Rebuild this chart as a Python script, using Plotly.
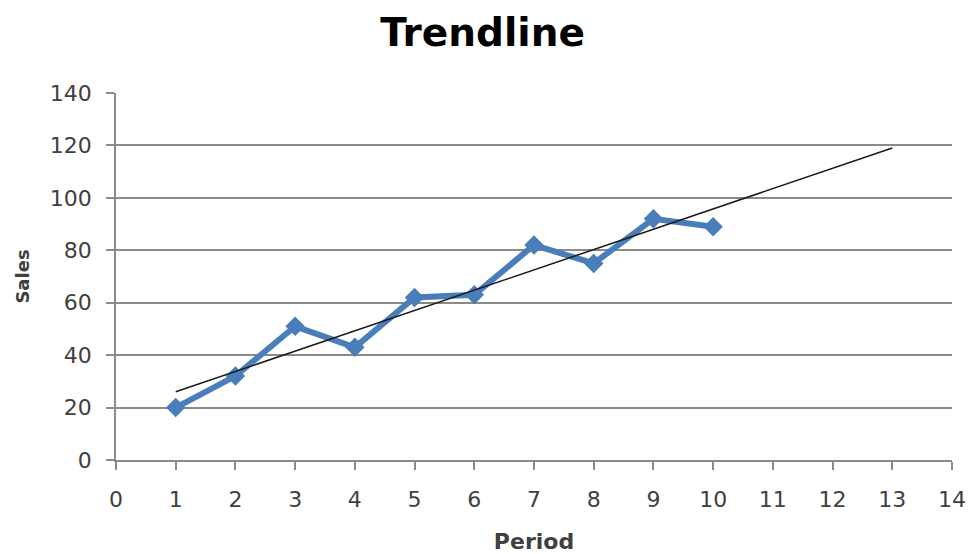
import numpy as np
import plotly.graph_objects as go

# Sales by period
period = [1, 2, 3, 4, 5, 6, 7, 8, 9, 10]
sales = [20, 32, 51, 43, 62, 63, 82, 75, 92, 89]

# Linear trendline, forecast forward 3 periods
forecast_periods = 3
slope, intercept = np.polyfit(period, sales, 1)
trend_x = [period[0], period[-1] + forecast_periods]
trend_y = [slope * x + intercept for x in trend_x]

x_ticks = list(range(0, 15))
y_ticks = list(range(0, 141, 20))

FONT = "DejaVu Sans"
AXIS_GRAY = "#8a8a8a"
TEXT_GRAY = "#404040"

fig = go.Figure()
fig.add_trace(go.Scatter(
    x=period, y=sales, mode="lines+markers",
    line=dict(color="#4a7ebb", width=6),
    marker=dict(symbol="diamond", size=15, color="#4a7ebb"),
    showlegend=False,
))
fig.add_trace(go.Scatter(
    x=trend_x, y=trend_y, mode="lines",
    line=dict(color="#1a1a1a", width=1.5),
    showlegend=False,
))

fig.update_layout(
    width=971, height=554,
    margin=dict(l=116, r=19, t=93, b=94),
    paper_bgcolor="white", plot_bgcolor="white",
    title=dict(text="<b>Trendline</b>", x=0.497, xanchor="center",
               y=0.942, yanchor="middle",
               font=dict(family=FONT, size=39, color="black")),
    font=dict(family=FONT, color=TEXT_GRAY),
)
fig.update_xaxes(
    range=[0, 14], tickvals=x_ticks, ticktext=[str(v) for v in x_ticks],
    showgrid=False, zeroline=False, automargin=False,
    showline=True, linecolor=AXIS_GRAY, linewidth=1.5,
    ticks="outside", ticklen=8, tickcolor=AXIS_GRAY, tickwidth=1.5,
    ticklabelstandoff=11,
    tickfont=dict(family=FONT, size=22, color=TEXT_GRAY),
    title=dict(text="<b>Period</b>", standoff=24,
               font=dict(family=FONT, size=22, color=TEXT_GRAY)),
)
fig.update_yaxes(
    range=[0, 140], tickvals=y_ticks,
    showgrid=True, gridcolor=AXIS_GRAY, gridwidth=1.5, zeroline=False,
    automargin=False,
    showline=True, linecolor=AXIS_GRAY, linewidth=1.5,
    ticks="outside", ticklen=8, tickcolor=AXIS_GRAY, tickwidth=1.5,
    ticklabelstandoff=10,
    tickfont=dict(family=FONT, size=22, color=TEXT_GRAY),
    title=dict(text="<b>Sales</b>", standoff=16,
               font=dict(family=FONT, size=18, color=TEXT_GRAY)),
)

fig.write_html("out.html")
